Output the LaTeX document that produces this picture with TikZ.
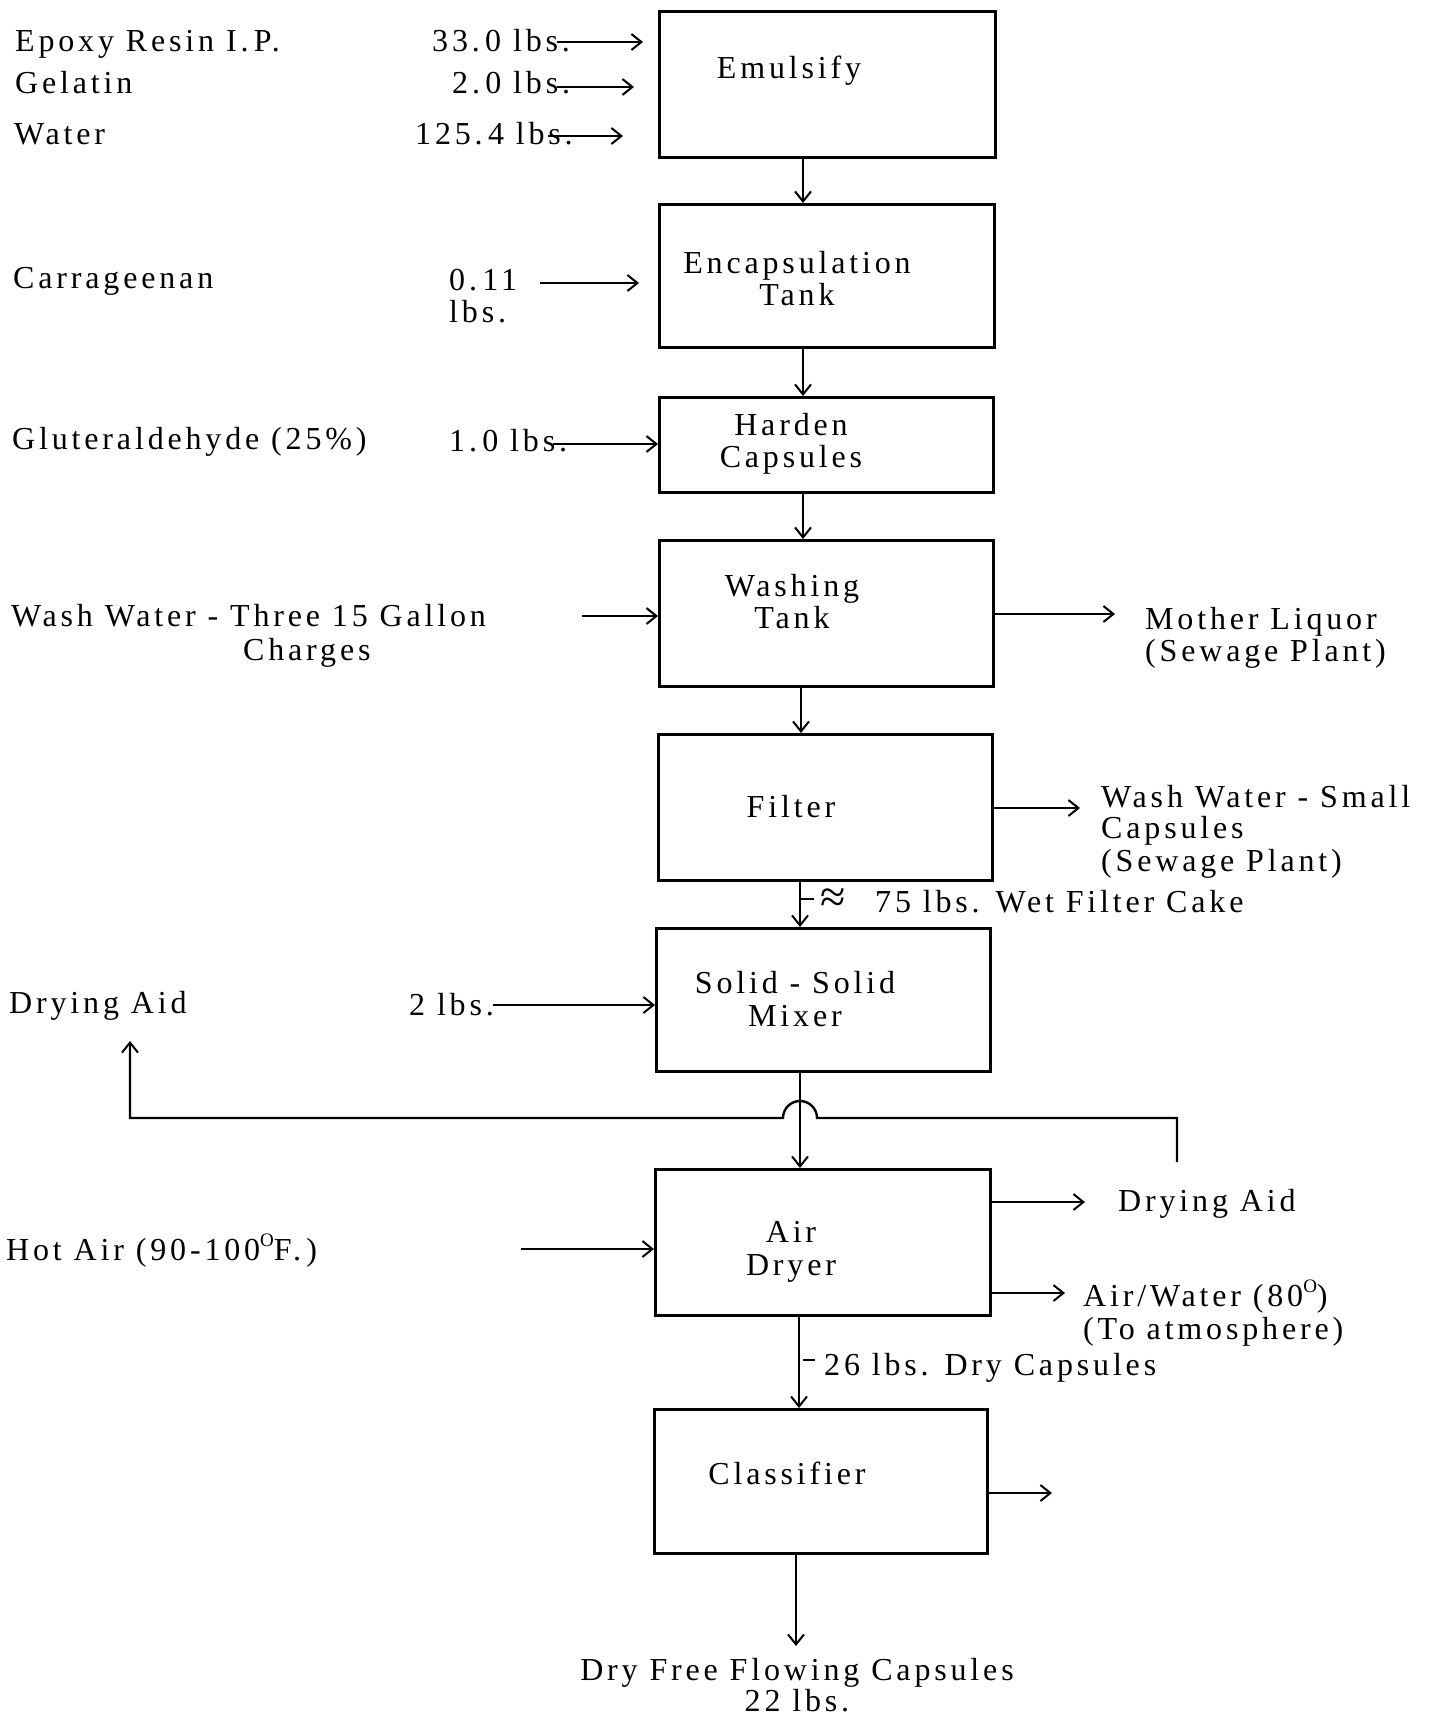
\documentclass[tikz,border=0pt]{standalone}
\usepackage{fontspec}
\setmainfont{Liberation Serif}[LetterSpace=12]
\usetikzlibrary{arrows.meta}
\newcommand{\degsup}{\raisebox{0.42em}{\fontsize{19}{19}\selectfont O}}
\begin{document}
\begin{tikzpicture}[x=1pt,y=-1pt,
 txt/.style={inner sep=0pt, text height=22pt, text depth=0pt, font=\fontsize{32}{36}\selectfont},
 lt/.style={txt, anchor=west},
 ct/.style={txt, anchor=center},
 box/.style={draw, line width=3pt, inner sep=0pt, anchor=north west},
 arr/.style={line width=2pt, -{Straight Barb[length=10pt,width=16pt,line width=2pt]}},
 inarr/.style={arr, line width=2.6pt},
 plain/.style={line width=2pt}
 ]
\useasboundingbox (0,0) rectangle (1439,1718);
% boxes
\node[box, minimum width=336pt, minimum height=146pt] (E) at (658,10) {};
\node[box, minimum width=335pt, minimum height=143pt] (T) at (658,203) {};
\node[box, minimum width=334pt, minimum height=95pt] (H) at (658,396) {};
\node[box, minimum width=334pt, minimum height=146pt] (W) at (658,539) {};
\node[box, minimum width=334pt, minimum height=146pt] (F) at (657,733) {};
\node[box, minimum width=334pt, minimum height=143pt] (M) at (655,927) {};
\node[box, minimum width=335pt, minimum height=146pt] (D) at (654,1168) {};
\node[box, minimum width=333pt, minimum height=144pt] (C) at (653,1408) {};
% box texts
\node[ct] (tE) at (789,68) {Emulsify};
\node[ct] (tT1) at (797,262) {Encapsulation};
\node[ct] (tT2) at (797,294) {Tank};
\node[ct] (tH1) at (791,424) {Harden};
\node[ct] (tH2) at (791,456) {Capsules};
\node[ct] (tW1) at (792,585) {Washing};
\node[ct] (tW2) at (792,617) {Tank};
\node[ct] (tF) at (791,806) {Filter};
\node[ct] (tM1) at (795,982) {Solid - Solid};
\node[ct] (tM2) at (795,1015) {Mixer};
\node[ct] (tD1) at (791,1231) {Air};
\node[ct] (tD2) at (791,1264) {Dryer};
\node[ct] (tC) at (787,1473) {Classifier};
% flow coordinates
\coordinate (x1) at (803,0);
\coordinate (x2) at (801,0);
\coordinate (x3) at (800,0);
\coordinate (x4) at (799,0);
\coordinate (out) at (796,1646);
\draw[arr] (E.south -| x1) -- (T.north -| x1);
\draw[arr] (T.south -| x1) -- (H.north -| x1);
\draw[arr] (H.south -| x1) -- (W.north -| x1);
\draw[arr] (W.south -| x2) -- (F.north -| x2);
\draw[arr] (F.south -| x3) -- (M.north -| x3);
\draw[arr] (M.south -| x3) -- (D.north -| x3);
\draw[arr] (D.south -| x4) -- (C.north -| x4);
\draw[arr] (C.south -| out) -- (out);
% left inputs
\node[lt] (l1) at (15,41) {Epoxy Resin I.\,P.};
\node[lt] (q1) at (432,41) {33.\,0 lbs.};
\coordinate (a1s) at (557,42); \coordinate (a1e) at (643,42);
\draw[inarr] (a1s) -- (a1e);
\node[lt] (l2) at (15,83) {Gelatin};
\node[lt] (q2) at (452,83) {2.\,0 lbs.};
\coordinate (a2s) at (557,87); \coordinate (a2e) at (634,87);
\draw[inarr] (a2s) -- (a2e);
\node[lt] (l3) at (14,133) {Water};
\node[lt] (q3) at (415,133) {125.\,4 lbs.};
\coordinate (a3s) at (548,136); \coordinate (a3e) at (623,136);
\draw[inarr] (a3s) -- (a3e);
\node[lt] (l4) at (13,277) {Carrageenan};
\node[lt] (q4a) at (449,279) {0.\,11};
\node[lt] (q4b) at (449,311) {lbs.};
\coordinate (a4s) at (540,283); \coordinate (a4e) at (639,283);
\draw[inarr] (a4s) -- (a4e);
\node[lt] (l5) at (12,438) {Gluteraldehyde (25\%)};
\node[lt] (q5) at (449,440) {1.\,0 lbs.};
\coordinate (a5s) at (553,444);
\draw[inarr] (a5s) -- (a5s -| H.west);
\node[lt] (l6a) at (11,615) {Wash Water - Three 15 Gallon};
\node[lt] (l6b) at (243,649) {Charges};
\coordinate (a6s) at (582,616);
\draw[inarr] (a6s) -- (a6s -| W.west);
% washing tank output
\coordinate (r1e) at (1115,614);
\draw[inarr] (r1e -| W.east) -- (r1e);
\node[lt] (m1) at (1145,618) {Mother Liquor};
\node[lt] (m2) at (1145,650) {(Sewage Plant)};
% filter output
\coordinate (r2e) at (1080,808);
\draw[inarr] (r2e -| F.east) -- (r2e);
\node[lt] (w1) at (1101,796) {Wash Water - Small};
\node[lt] (w2) at (1101,827) {Capsules};
\node[lt] (w3) at (1101,860) {(Sewage Plant)};
% wet filter cake
\coordinate (k1s) at (800,899); \coordinate (k1e) at (814,899);
\draw[plain, line width=2.6pt] (k1s) -- (k1e);
\node[lt, font=\fontsize{46}{46}\selectfont, text height=30pt] (ap) at (820,897) {≈};
\node[lt] (wc) at (875,901) {75 lbs. Wet Filter Cake};
% mixer input
\node[lt] (l7) at (9,1002) {Drying Aid};
\node[lt] (q7) at (409,1004) {2 lbs.};
\coordinate (a7s) at (493,1005);
\draw[inarr] (a7s) -- (a7s -| M.west);
% recycle line with hop
\coordinate (rcA) at (1177,1162);
\coordinate (rcB) at (1177,1118);
\coordinate (hopR) at (817,1118);
\coordinate (rcC) at (130,1118);
\coordinate (rcD) at (130,1041);
\draw[arr, line width=2.4pt] (rcA) -- (rcB) -- (hopR) arc[start angle=0, end angle=-180, radius=17] -- (rcC) -- (rcD);
% air dryer
\node[lt] (l8) at (6,1249) {Hot Air (90-100\degsup F.\,)};
\coordinate (a8s) at (521,1249);
\draw[inarr] (a8s) -- (a8s -| D.west);
\coordinate (r3e) at (1085,1202);
\draw[inarr] (r3e -| D.east) -- (r3e);
\node[lt] (d1) at (1118,1200) {Drying Aid};
\coordinate (r4e) at (1065,1293);
\draw[inarr] (r4e -| D.east) -- (r4e);
\node[lt] (aw1) at (1083,1295) {Air/Water (80\degsup)};
\node[lt] (aw2) at (1083,1328) {(To atmosphere)};
% dry capsules
\coordinate (k2s) at (803,1360); \coordinate (k2e) at (815,1360);
\draw[plain, line width=2.6pt] (k2s) -- (k2e);
\node[lt] (dc) at (824,1364) {26 lbs. Dry Capsules};
% classifier output
\coordinate (r5e) at (1052,1493);
\draw[inarr] (r5e -| C.east) -- (r5e);
\node[ct] (f1) at (797,1669) {Dry Free Flowing Capsules};
\node[ct] (f2) at (797,1700) {22 lbs.};
\end{tikzpicture}
\end{document}
